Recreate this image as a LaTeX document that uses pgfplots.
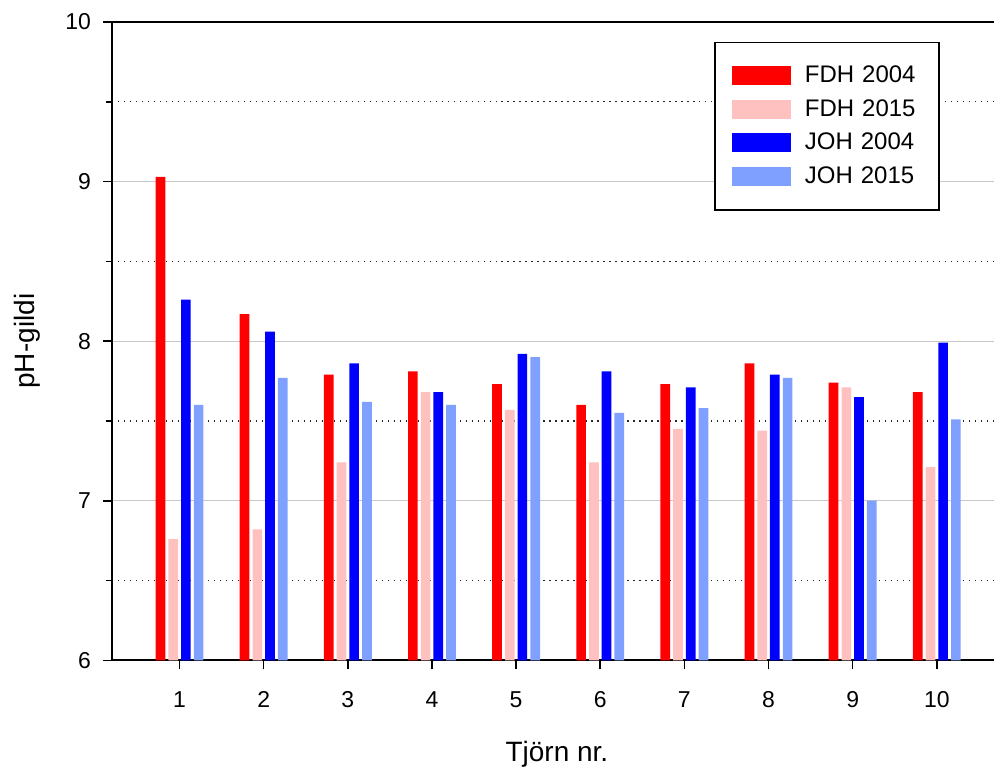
\documentclass[border=0pt]{standalone}
\usepackage{pgfplots}
\pgfplotsset{compat=1.18}
\usepackage{fontspec}
\setmainfont{Liberation Sans}
\definecolor{cFDHa}{RGB}{255,0,0}
\definecolor{cFDHb}{RGB}{255,192,192}
\definecolor{cJOHa}{RGB}{0,0,255}
\definecolor{cJOHb}{RGB}{128,160,255}
\definecolor{gridgray}{RGB}{200,200,200}
\begin{document}
\begin{tikzpicture}
\begin{axis}[
  name=ax,
  scale only axis,
  width=441.5pt, height=319.5pt,
  xmin=0.196, xmax=10.68,
  ymin=6, ymax=10,
  ybar,
  bar width=0.115,
  xtick={1,2,3,4,5,6,7,8,9,10},
  ytick={6,7,8,9,10},
  minor ytick={6.5,7.5,8.5,9.5},
  tick align=outside,
  major tick length=4.5pt,
  minor tick length=3pt,
  every tick/.style={black, line width=0.8pt},
  axis x line*=bottom,
  axis y line*=left,
  axis line style={black, line width=1pt},
  ymajorgrids, yminorgrids,
  major grid style={gridgray, line width=0.6pt},
  minor grid style={black!85, line width=0.6pt, dash pattern=on 0.6pt off 2.4pt},
  /pgf/number format/assume math mode=true,
  ticklabel style={font=\fontsize{11.5}{13}\selectfont},
  xticklabel style={yshift=-7.5pt},
  yticklabel style={xshift=-2.5pt},
  xlabel={Tjörn nr.},
  ylabel={pH-gildi},
  every axis x label/.style={at={(axis description cs:0.5045,-0.158)}, anchor=base, font=\fontsize{14}{16}\selectfont},
  every axis y label/.style={at={(axis description cs:-0.0963,0.5)}, anchor=center, rotate=90, font=\fontsize{14}{16}\selectfont},
  legend image code/.code={\fill[#1] (0pt,-4.75pt) rectangle (29.5pt,4.75pt);},
  legend cell align=left,
  legend style={
    at={(axis description cs:0.9388,0.969)}, anchor=north east,
    draw=black, line width=0.8pt,
    font=\fontsize{12}{14}\selectfont,
    inner xsep=8.5pt, inner ysep=11.75pt,
    row sep=6.9pt,
    nodes={inner sep=0pt},
    /tikz/every odd column/.append style={column sep=7pt},
    /tikz/every even column/.append style={text width=58.7pt},
  },
  clip=true,
]
\addplot[fill=cFDHa, draw=none, bar shift=-0.227] coordinates {
 (1,9.03) (2,8.17) (3,7.79) (4,7.81) (5,7.73) (6,7.60) (7,7.73) (8,7.86) (9,7.74) (10,7.68)};
\addplot[fill=cFDHb, draw=none, bar shift=-0.075] coordinates {
 (1,6.76) (2,6.82) (3,7.24) (4,7.68) (5,7.57) (6,7.24) (7,7.45) (8,7.44) (9,7.71) (10,7.21)};
\addplot[fill=cJOHa, draw=none, bar shift=0.075] coordinates {
 (1,8.26) (2,8.06) (3,7.86) (4,7.68) (5,7.92) (6,7.81) (7,7.71) (8,7.79) (9,7.65) (10,7.99)};
\addplot[fill=cJOHb, draw=none, bar shift=0.227] coordinates {
 (1,7.60) (2,7.77) (3,7.62) (4,7.60) (5,7.90) (6,7.55) (7,7.58) (8,7.77) (9,7.00) (10,7.51)};
\legend{FDH 2004, FDH 2015, JOH 2004, JOH 2015}
\draw[black, line width=1pt] (rel axis cs:0,1) -- (rel axis cs:1,1);
\end{axis}
\useasboundingbox ([shift={(-56pt,-54.5pt)}]ax.south west) rectangle ([shift={(0pt,11pt)}]ax.north east);
\end{tikzpicture}
\end{document}
